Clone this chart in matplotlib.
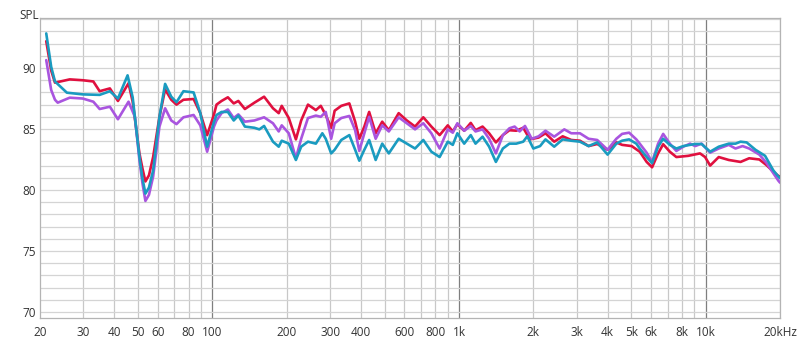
import matplotlib
matplotlib.use("Agg")
import matplotlib.pyplot as plt
from matplotlib.ticker import FixedLocator, NullFormatter

plt.rcParams['font.family'] = ['Open Sans', 'DejaVu Sans']

# ---- data ----
red_hz = [21.2, 22.2, 23.0, 26.4, 29.8, 32.9, 34.9, 38.4, 41.4, 45.7, 47.5, 50.6, 52.0, 53.5, 55.3, 57.5, 61.0, 64.3,
          68.1, 71.5, 76.3, 83.9, 89.3, 95.2, 101.5, 103.9, 108.9, 115.5, 122, 127.4, 135.4, 148, 162,
          176, 185.7, 191, 204, 218, 229, 244, 262.7, 275, 288, 303, 313, 333, 359, 379, 394, 413,
          432, 459, 488, 519, 569, 614, 663, 716, 772, 834, 900, 943, 984, 1049, 1115, 1166, 1245,
          1324, 1410, 1505, 1600, 1705, 1820, 1937, 2100, 2240, 2430, 2630, 2850, 3090, 3350, 3630,
          4000, 4340, 4580, 5010, 5400, 5760, 6060, 6410, 6720, 7150, 7600, 8490, 9480, 9940, 10420,
          11290, 12400, 13840, 15000, 16500, 17600, 18800, 19700, 20000]
red_db = [92.2, 89.8, 88.8, 89.07, 89.0, 88.9, 88.1, 88.33, 87.3, 88.75, 87.24, 83.0, 81.8, 80.7, 81.2, 82.7, 86.0, 88.25,
          87.4, 87.0, 87.4, 87.46, 86.3, 84.5, 86.2, 87.0, 87.3, 87.6, 87.1, 87.3, 86.64, 87.16, 87.65,
          86.7, 86.3, 86.9, 85.9, 84.15, 85.7, 87.0, 86.55, 86.9, 86.15, 85.1, 86.5, 86.9, 87.1, 85.6,
          84.2, 85.2, 86.4, 84.65, 85.6, 84.9, 86.3, 85.7, 85.2, 85.96, 85.2, 84.5, 85.3, 84.8, 85.4,
          84.86, 85.5, 84.9, 85.2, 84.65, 83.9, 84.5, 84.9, 84.86, 85.1, 84.15, 84.3, 84.65, 83.96,
          84.4, 84.1, 84.04, 83.6, 83.77, 83.3, 83.9, 83.7, 83.6, 83.14, 82.3, 81.86, 83.0, 83.75,
          83.14, 82.7, 82.8, 83.0, 82.7, 82.0, 82.7, 82.46, 82.3, 82.6, 82.5, 82.05, 81.5, 81.15, 81.1]

purple_hz = [21.2, 22.2, 23.0, 23.6, 26.4, 29.8, 32.9, 34.9, 38.4, 41.4, 45.7, 48.5, 50.6, 52.0, 53.5, 55.3, 57.5,
             61.0, 64.3, 68.1, 71.5, 76.3, 83.9, 89.3, 95.2, 101.5, 103.9, 108.9, 115.5, 122, 127.4,
             135.4, 148, 162, 176, 185.7, 191, 204, 218, 229, 244, 262.7, 275, 288, 303, 313, 333, 359,
             379, 394, 413, 432, 459, 488, 519, 569, 614, 663, 716, 772, 834, 900, 943, 984, 1049,
             1115, 1166, 1245, 1324, 1410, 1505, 1600, 1680, 1760, 1850, 1970, 2100, 2240, 2430, 2670,
             2850, 3090, 3350, 3630, 4000, 4340, 4580, 4890, 5230, 5400, 5760, 6060, 6410, 6720, 7150,
             7600, 8110, 8640, 9060, 9620, 10420, 11290, 12400, 13200, 14100, 15000, 16500, 17600,
             18800, 19700, 20000]
purple_db = [90.65, 88.2, 87.4, 87.16, 87.57, 87.5, 87.24, 86.64, 86.83, 85.8, 87.24, 86.0, 82.46, 80.6, 79.1,
             79.6, 81.1, 85.2, 86.7, 85.7, 85.4, 85.96, 86.15, 85.3, 83.14, 85.2, 85.7, 86.3, 86.6, 85.9, 86.2,
             85.6, 85.7, 85.96, 85.47, 84.8, 85.3, 84.65, 82.6, 84.2, 85.9, 86.1, 86.0, 86.4, 84.2,
             85.47, 85.9, 86.07, 84.9, 83.2, 84.65, 86.0, 84.2, 85.3, 84.8, 85.96, 85.47, 84.97, 85.47,
             84.65, 83.4, 84.97, 84.7, 85.47, 84.86, 85.25, 84.8, 84.97, 84.2, 83.0, 84.5, 85.06, 85.2,
             84.8, 85.25, 84.2, 84.4, 84.86, 84.37, 84.97, 84.65, 84.65, 84.2, 84.1, 83.3, 84.2, 84.6,
             84.7, 84.15, 83.8, 83.06, 82.3, 83.8, 84.6, 83.8, 83.2, 83.55, 83.8, 83.6, 83.8, 83.06,
             83.4, 83.7, 83.4, 83.6, 83.4, 82.9, 82.24, 81.37, 80.76, 80.6]

teal_hz = [21.2, 22.2, 23.0, 25.7, 29.8, 34.9, 38.4, 41.4, 45.3, 47.5, 50.6, 52.0, 53.5, 55.3, 57.5, 61.0, 64.3,
           68.1, 71.5, 76.3, 83.9, 89.3, 95.2, 101.5, 103.9, 108.9, 115.5, 122, 127.4, 135.4, 148, 155,
           162, 176, 185.7, 191, 204, 218, 229, 244, 262.7, 279, 288, 303, 313, 333, 359, 379, 394,
           413, 432, 459, 488, 519, 569, 614, 663, 716, 772, 834, 900, 943, 984, 1049, 1115, 1166,
           1245, 1324, 1410, 1505, 1600, 1705, 1820, 1890, 2000, 2130, 2240, 2430, 2630, 2850, 3090,
           3350, 3630, 4000, 4340, 4580, 4890, 5230, 5400, 5760, 6060, 6410, 6720, 7150, 7600, 8110,
           8640, 9060, 9620, 10420, 11290, 12400, 13200, 13840, 14650, 15900, 17400, 18800, 19700,
           20000]
teal_db = [92.84, 90.1, 88.9, 87.98, 87.84, 87.8, 88.1, 87.5, 89.4, 87.6, 82.7, 81.0, 79.7, 80.2, 81.6, 86.0, 88.7,
           87.65, 87.2, 88.1, 88.0, 86.3, 83.55, 85.6, 86.15, 86.4, 86.4, 85.7, 86.1, 85.2, 85.1, 84.97,
           85.25, 83.96, 83.55, 84.04, 83.8, 82.46, 83.55, 83.96, 83.8, 84.65, 84.2, 83.0, 83.3, 84.1,
           84.5, 83.3, 82.4, 83.3, 84.1, 82.46, 83.8, 83.0, 84.2, 83.8, 83.4, 84.1, 83.14, 82.7, 83.96,
           83.7, 84.65, 83.8, 84.5, 83.8, 84.37, 83.55, 82.3, 83.4, 83.8, 83.8, 83.96, 84.4, 83.4,
           83.6, 84.15, 83.55, 84.15, 84.04, 83.96, 83.6, 83.9, 82.9, 83.8, 84.04, 84.15, 83.8, 83.4,
           82.7, 82.2, 83.55, 84.2, 83.7, 83.4, 83.6, 83.7, 83.77, 83.77, 83.14, 83.55, 83.8, 83.8,
           83.96, 83.9, 83.3, 82.8, 81.6, 81.1, 80.96]

x_tick_vals = [20, 30, 40, 50, 60, 80, 100, 200, 300, 400, 600, 800, 1000, 2000, 3000, 4000,
               5000, 6000, 8000, 10000, 20000]
x_tick_labels = ['20', '30', '40', '50', '60', '80', '100', '200', '300', '400', '600', '800', '1k',
                 '2k', '3k', '4k', '5k', '6k', '8k', '10k', '20kHz']
y_tick_vals = [70, 75, 80, 85, 90]

RED = '#e0103f'
PURPLE = '#a955df'
TEAL = '#1a9bc0'

fig = plt.figure(figsize=(8, 3.42), dpi=100)
ax = fig.add_axes([0.05, 0.0702, 0.925, 0.877])

ax.set_xscale('log')
ax.set_xlim(20, 20000)
ax.set_ylim(69.5, 94.1)

# grid lines
minor_x = []
for dec in [10, 100, 1000, 10000]:
    for m in range(1, 10):
        v = dec * m
        if 20 < v <= 20000 and v not in (100, 1000, 10000):
            minor_x.append(v)
for v in minor_x:
    ax.axvline(v, color='#c8c8c8', lw=0.9, zorder=0)
for v in (100, 1000, 10000):
    ax.axvline(v, color='#7f7f7f', lw=0.9, zorder=0)
for v in range(70, 95):
    ax.axhline(v, color='#d4d4d4', lw=0.9, zorder=0)

ax.plot(purple_hz, purple_db, color=PURPLE, lw=1.9, solid_joinstyle='round', solid_capstyle='round', zorder=3)
ax.plot(teal_hz, teal_db, color=TEAL, lw=1.9, solid_joinstyle='round', solid_capstyle='round', zorder=4)
ax.plot(red_hz, red_db, color=RED, lw=1.9, solid_joinstyle='round', solid_capstyle='round', zorder=2)

ax.xaxis.set_major_locator(FixedLocator(x_tick_vals))
ax.xaxis.set_minor_locator(FixedLocator([]))
ax.xaxis.set_minor_formatter(NullFormatter())
ax.set_xticklabels(x_tick_labels)
ax.set_yticks(y_tick_vals)
ax.tick_params(axis='both', length=0, labelsize=8.5, colors='#333333')
ax.tick_params(axis='x', pad=6)
ax.tick_params(axis='y', pad=3)

for s in ax.spines.values():
    s.set_color('#b4b4b4')
    s.set_linewidth(0.9)

fig.text(0.024, 0.975, 'SPL', fontsize=8.5, color='#333333', va='top', ha='left')

fig.savefig('out.png', dpi=100, facecolor='white')
